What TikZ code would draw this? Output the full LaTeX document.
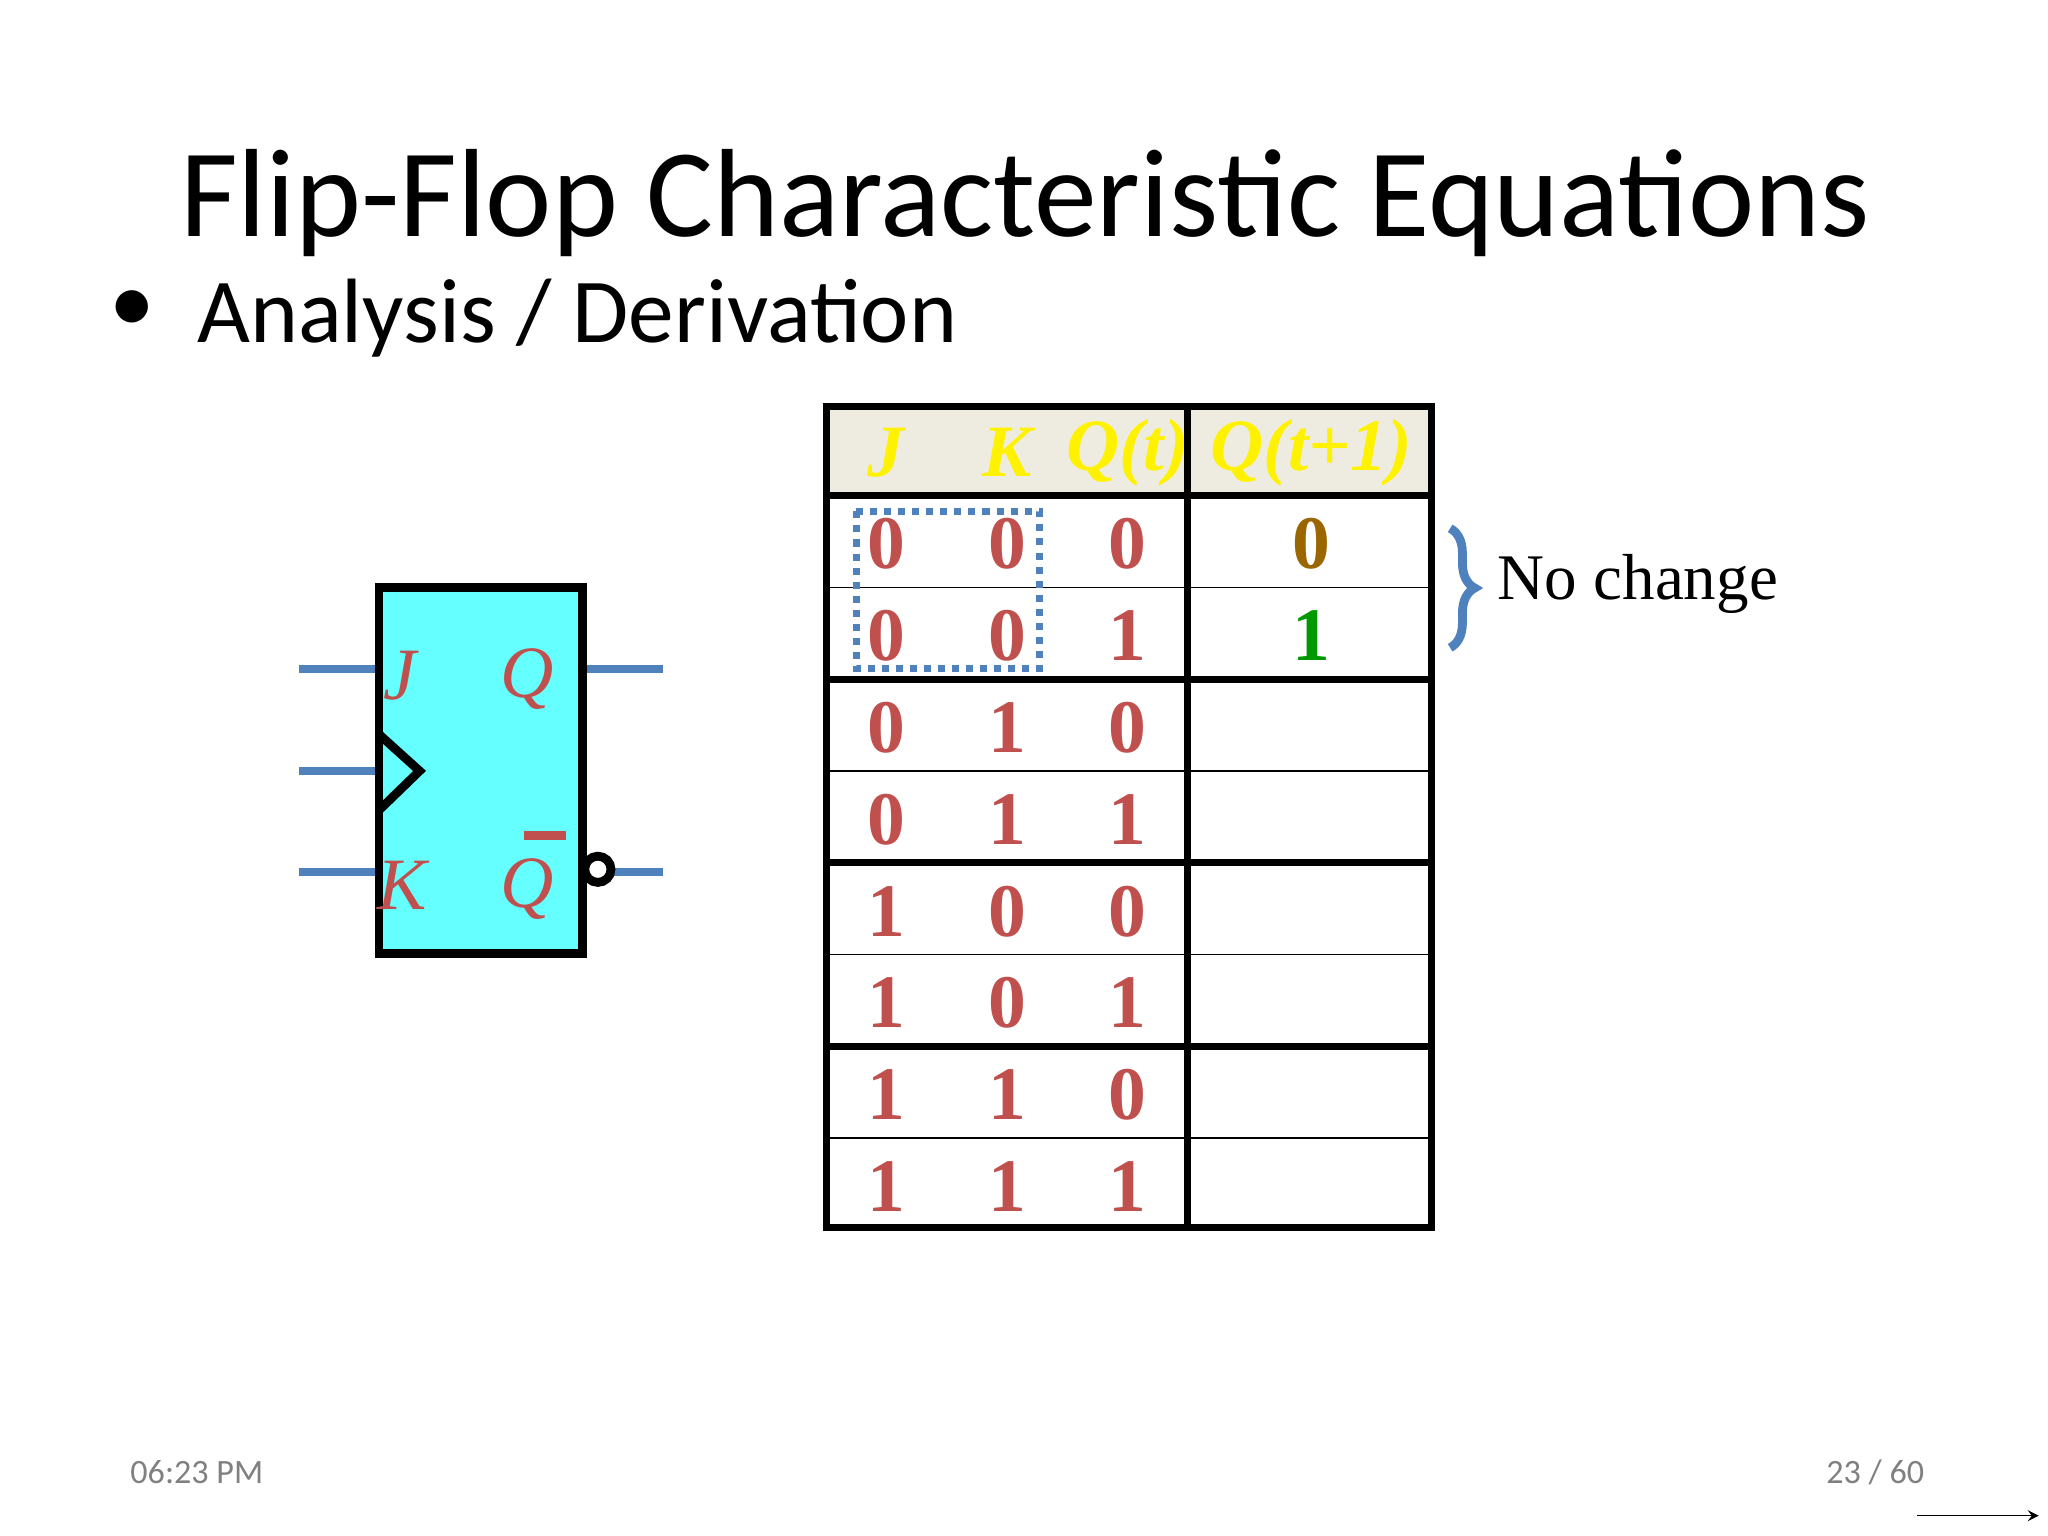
\documentclass[tikz,border=0pt]{standalone}
\usepackage{fontspec}
\setmainfont{Liberation Serif}
\newfontfamily\calfont{Carlito}
\usetikzlibrary{decorations.pathreplacing}
\definecolor{dred}{RGB}{192,80,77}
\definecolor{pblue}{RGB}{79,129,189}
\definecolor{hdr}{RGB}{238,236,225}
\definecolor{dgold}{RGB}{153,102,0}
\definecolor{dgreen}{RGB}{0,153,0}
\begin{document}
\begin{tikzpicture}[x=0.01311cm,y=-0.01311cm,
  dig/.style={font=\fontsize{21.5}{21.5}\selectfont\bfseries, text=dred},
  hd/.style={font=\fontsize{21}{21}\selectfont\bfseries\itshape, text=yellow},
  lab/.style={font=\fontsize{21}{21}\selectfont\itshape, text=dred},
  wire/.style={pblue, line width=2.2pt}]
\useasboundingbox (0,0) rectangle (1562,1171);
\node[font=\calfont\fontsize{35.7}{36}\selectfont] (title) at (782,155) {Flip-Flop Characteristic Equations};
\node[font=\calfont\fontsize{26}{26}\selectfont] (dot) at (101,238) {\textbullet};
\node[font=\calfont\fontsize{26}{26}\selectfont, anchor=west] (bul) at (141,243) {Analysis / Derivation};
\node[font=\calfont\fontsize{9.7}{10}\selectfont, text=gray, anchor=west] (time) at (90,1123) {06:23 PM};
\node[font=\calfont\fontsize{9.7}{10}\selectfont, text=gray, anchor=east] (pg) at (1477,1123) {23 / 60};
\coordinate (a1) at (1462,1156); \coordinate (a2) at (1555,1156);
\draw[-stealth, thin] (a1) -- (a2);
% flip flop
\draw[wire] (228,510) -- (289,510);
\draw[wire] (228,588) -- (289,588);
\draw[wire] (228,665) -- (289,665);
\draw[wire] (444,510) -- (506,510);
\draw[wire] (466,665) -- (506,665);
\draw[fill={rgb,255:red,102;green,255;blue,255}, line width=2.5pt] (289,448) rectangle (444,727);
\draw[line width=2.5pt] (289,560) -- (320,588) -- (289,618);
\draw[line width=2.5pt, fill=white] (456,663) circle (10);
\node[lab] (J) at (305,515) {J};
\node[lab] (Q) at (402,518) {Q};
\node[lab] (K) at (307,675) {K};
\node[lab] (Qb) at (402,678) {Q};
\draw[dred, line width=2.5pt] (400,637) -- (432,637);
% table
\fill[hdr] (630,310) rectangle (1092,378);
\foreach \y in {448,588,728,868} \draw[thin] (630,\y) -- (1092,\y);
\foreach \y in {378,518,658,798} \draw[line width=2pt] (630,\y) -- (1092,\y);
\draw[line width=2pt] (630,310) rectangle (1092,936);
\draw[line width=2pt] (906,310) -- (906,936);
\node[hd] at (676,345) {J};
\node[hd] at (768,345) {K};
\node[hd] at (860,345) {Q(t)};
\node[hd] at (1000,345) {Q(t+1)};
\foreach \a/\b/\c [count=\i from 0] in {0/0/0,0/0/1,0/1/0,0/1/1,1/0/0,1/0/1,1/1/0,1/1/1}{
  \node[dig] at (676,415+70*\i) {\a};
  \node[dig] at (768,415+70*\i) {\b};
  \node[dig] at (860,415+70*\i) {\c};
}
\node[dig, text=dgold] (r0) at (1000,415) {0};
\node[dig, text=dgreen] (r1) at (1000,485) {1};
\draw[pblue, line width=2pt, dotted] (653,390) rectangle (793,510);
\draw[pblue, line width=2.5pt, decorate, decoration={brace, amplitude=7pt}] (1106,403) -- (1106,494);
\node[font=\fontsize{18.5}{19}\selectfont, anchor=west] (nc) at (1133,445) {No change};
\end{tikzpicture}
\end{document}
